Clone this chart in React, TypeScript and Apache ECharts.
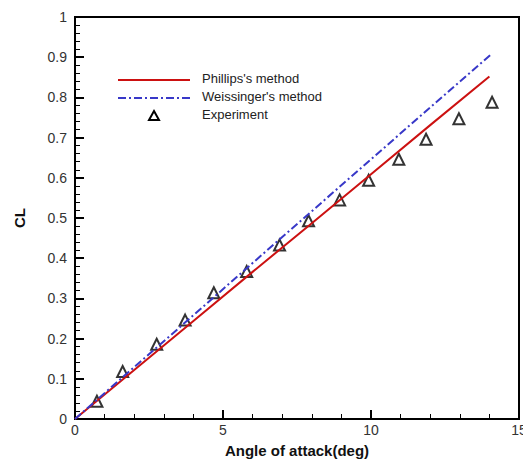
import React, { useEffect, useRef } from "react";
import * as echarts from "echarts";

const phillipsAlpha = [0, 2, 4, 6, 8, 10, 12, 14];
const phillipsCL = [0, 0.122, 0.244, 0.366, 0.487, 0.609, 0.731, 0.852];

const weissingerAlpha = [0, 2, 4, 6, 8, 10, 12, 14.1];
const weissingerCL = [0, 0.129, 0.258, 0.388, 0.517, 0.646, 0.775, 0.91];

const expAlpha = [0.74, 1.61, 2.76, 3.72, 4.69, 5.8, 6.91, 7.89, 8.94, 9.92, 10.94, 11.86, 12.97, 14.09];
const expCL = [0.044, 0.118, 0.186, 0.246, 0.314, 0.367, 0.433, 0.493, 0.545, 0.594, 0.646, 0.696, 0.747, 0.788];

const seriesNames = ["Phillips's method", "Weissinger's method", "Experiment"];

const zip = (a: number[], b: number[]) => a.map((v, i) => [v, b[i]]);

const RED = "#cc1111";
const BLUE = "#3838c8";

export default function App() {
  const ref = useRef<HTMLDivElement>(null);
  useEffect(() => {
    if (!ref.current) return;
    const chart = echarts.init(ref.current, null, { renderer: "svg" });
    const font = "Liberation Sans, Arial, sans-serif";
    const legendText = (y: number, text: string) => ({
      type: "text",
      x: 202,
      y,
      style: { text, fontFamily: font, fontSize: 13, fill: "#222", textVerticalAlign: "middle" },
    });
    chart.setOption({
      animation: false,
      backgroundColor: "#fff",
      grid: { left: 75, right: 12, top: 17, bottom: 42, show: true, borderColor: "#000", borderWidth: 2 },
      graphic: [
        { type: "line", shape: { x1: 118, y1: 80, x2: 190, y2: 80 }, style: { stroke: RED, lineWidth: 2 } },
        {
          type: "line",
          shape: { x1: 118, y1: 98, x2: 190, y2: 98 },
          style: { stroke: BLUE, lineWidth: 2, lineDash: [8, 3, 2, 3] },
        },
        {
          type: "polygon",
          shape: { points: [[154, 111], [159, 120], [149, 120]] },
          style: { fill: "none", stroke: "#000", lineWidth: 2 },
        },
        legendText(78, seriesNames[0]),
        legendText(96, seriesNames[1]),
        legendText(114, seriesNames[2]),
      ],
      xAxis: {
        type: "value",
        min: 0,
        max: 15,
        interval: 5,
        name: "Angle of attack(deg)",
        nameLocation: "middle",
        nameGap: 24,
        nameTextStyle: { fontFamily: font, fontSize: 15, fontWeight: "bold", color: "#111" },
        axisLine: { show: true, onZero: false, lineStyle: { color: "#000", width: 2 } },
        axisTick: { show: true, inside: true, length: 9, lineStyle: { color: "#000", width: 2 } },
        minorTick: { show: true, splitNumber: 5, length: 5, lineStyle: { color: "#000", width: 1 } },
        axisLabel: { fontFamily: font, fontSize: 14, color: "#333", margin: 4 },
        splitLine: { show: false },
      },
      yAxis: {
        type: "value",
        min: 0,
        max: 1,
        interval: 0.1,
        name: "CL",
        nameLocation: "middle",
        nameGap: 48,
        nameRotate: 90,
        nameTextStyle: { fontFamily: font, fontSize: 15, fontWeight: "bold", color: "#111" },
        axisLine: { show: true, onZero: false, lineStyle: { color: "#000", width: 2 } },
        axisTick: { show: true, inside: true, length: 9, lineStyle: { color: "#000", width: 2 } },
        minorTick: { show: true, splitNumber: 5, length: 5, lineStyle: { color: "#000", width: 1 } },
        axisLabel: { fontFamily: font, fontSize: 14, color: "#333", margin: 8 },
        splitLine: { show: false },
      },
      series: [
        {
          name: seriesNames[0],
          type: "line",
          data: zip(phillipsAlpha, phillipsCL),
          showSymbol: false,
          symbol: "none",
          lineStyle: { color: RED, width: 2 },
        },
        {
          name: seriesNames[1],
          type: "line",
          data: zip(weissingerAlpha, weissingerCL),
          showSymbol: false,
          symbol: "none",
          lineStyle: { color: BLUE, width: 2, type: [8, 3, 2, 3] },
        },
        {
          name: seriesNames[2],
          type: "scatter",
          data: zip(expAlpha, expCL),
          symbol: "triangle",
          symbolSize: 11,
          itemStyle: { color: "#fff", borderColor: "#000", borderWidth: 2 },
        },
      ],
    });
    return () => chart.dispose();
  }, []);
  return <div ref={ref} style={{ width: 531, height: 463, marginLeft: -8, marginTop: -8 }} />;
}
